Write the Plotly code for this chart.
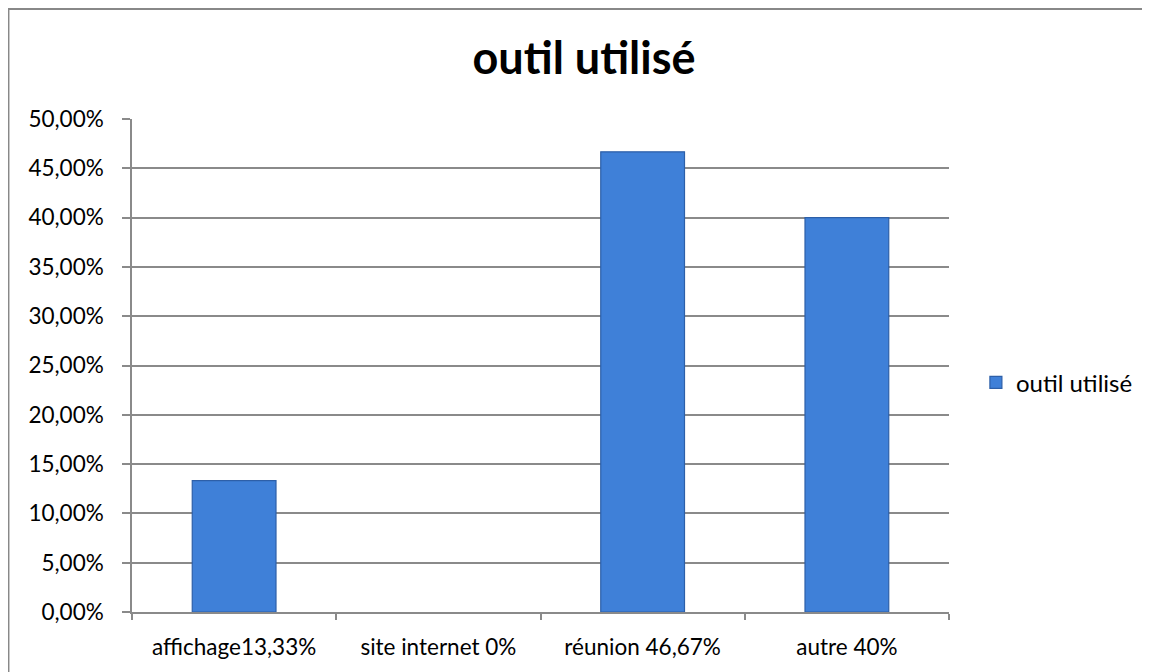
import plotly.graph_objects as go

categories = ["affichage13,33%", "site internet 0%", "réunion 46,67%", "autre 40%"]
values = [0.1333, 0.0, 0.4667, 0.40]
series_name = "outil utilisé"
title_text = "outil utilisé"

# page body has an 8px margin; figure coordinates below are relative to the figure
W, H = 1142, 664
L, R, T, B = 124, 944, 111, 608

fig = go.Figure()
fig.add_trace(go.Bar(
    x=categories, y=values, name=series_name,
    marker=dict(color="#3f80d8",
                line=dict(color="#2d5fa8", width=[0 if v == 0 else 1.2 for v in values])),
    showlegend=True,
))

def px_x(p):
    return (p - L) / (R - L)

def px_y(p):
    return (B - p) / (B - T)

fig.update_layout(
    width=W, height=H,
    margin=dict(l=L, r=W - R, t=T, b=H - B),
    paper_bgcolor="white", plot_bgcolor="white",
    separators=",.",
    font=dict(family="Lato, Calibri, sans-serif", size=22.5, color="#000000"),
    bargap=0.59,
    title=dict(text="<b>" + title_text + "</b>", x=576 / W, xref="container", xanchor="center",
               y=1 - 50 / H, yref="container", yanchor="middle",
               font=dict(size=45, family="Lato, Calibri, sans-serif", color="#000")),
    legend=dict(x=px_x(971), y=px_y(377), xanchor="left", yanchor="middle",
                font=dict(size=24), itemwidth=30, bgcolor="rgba(0,0,0,0)"),
    shapes=[dict(type="rect", xref="paper", yref="paper",
                 x0=px_x(0), x1=px_x(1170), y0=px_y(700), y1=px_y(0),
                 line=dict(color="#888888", width=2), fillcolor="rgba(0,0,0,0)", layer="below")],
)
fig.update_yaxes(range=[0, 0.5], dtick=0.05, tickformat=".2%", showgrid=True,
                 gridcolor="#8a8a8a", gridwidth=1.5, showline=True, linecolor="#8a8a8a", linewidth=1.5,
                 ticks="outside", ticklen=8, tickcolor="#8a8a8a", tickwidth=1.5, zeroline=False,
                 ticklabelstandoff=14)
fig.update_xaxes(showgrid=False, showline=True, linecolor="#8a8a8a", linewidth=1.5,
                 ticks="outside", ticklen=6, tickcolor="#8a8a8a", tickwidth=1.5, tickson="boundaries",
                 ticklabelstandoff=14)

fig.write_html("out.html")
